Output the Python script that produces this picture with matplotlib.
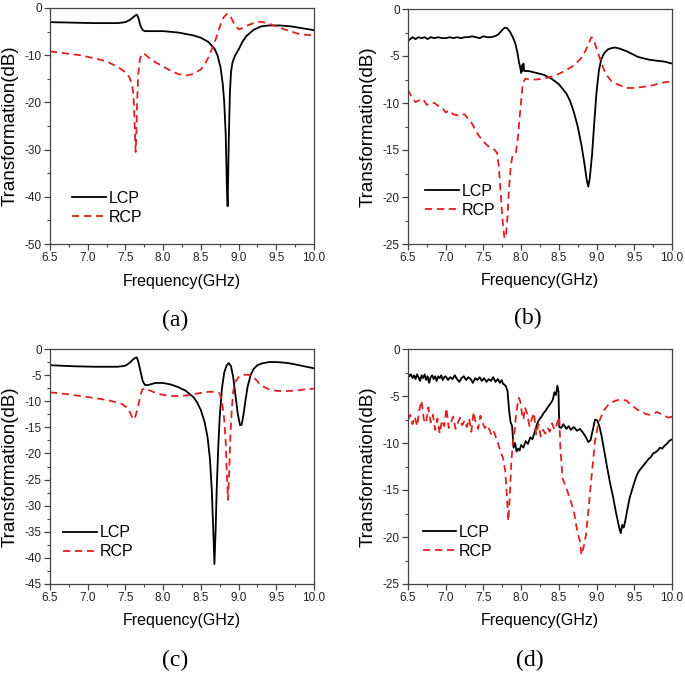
import matplotlib
matplotlib.use("Agg")
import matplotlib.pyplot as plt
from matplotlib.ticker import MultipleLocator

plt.rcParams['font.family'] = ['Liberation Sans', 'DejaVu Sans']
plt.rcParams['axes.unicode_minus'] = False

# ---------------- data ----------------
# (a)
a_lcp_x = [6.5, 6.8, 7.1, 7.4, 7.5, 7.56, 7.6, 7.63, 7.65, 7.67, 7.7, 7.73, 7.76, 7.8, 8.0, 8.2, 8.4, 8.5, 8.6,
           8.68, 8.72, 8.76, 8.79, 8.81, 8.83, 8.845, 8.855, 8.87, 8.885, 8.9, 8.92, 8.95, 9.0, 9.05, 9.1, 9.2,
           9.3, 9.4, 9.55, 9.7, 9.85, 10.0]
a_lcp_y = [-3.0, -3.1, -3.2, -3.2, -3.0, -2.5, -2.0, -1.6, -1.4, -2.0, -3.8, -4.7, -4.9, -4.9, -4.9, -5.2, -5.8,
           -6.3, -7.2, -8.6, -10.0, -12.5, -16.0, -20.0, -27.0, -38.0, -42.0, -28.0, -18.0, -13.5, -11.5, -10.2,
           -8.8, -7.2, -6.0, -4.6, -3.9, -3.7, -3.7, -3.9, -4.3, -4.7]
a_rcp_x = [6.5, 6.7, 6.9, 7.1, 7.25, 7.4, 7.5, 7.55, 7.58, 7.6, 7.615, 7.625, 7.635, 7.645, 7.655, 7.67, 7.69,
           7.71, 7.73, 7.76, 7.8, 7.9, 8.0, 8.1, 8.2, 8.3, 8.4, 8.5, 8.55, 8.6, 8.65, 8.7, 8.75, 8.8, 8.85, 8.9,
           8.95, 9.0, 9.05, 9.1, 9.2, 9.3, 9.4, 9.5, 9.6, 9.7, 9.8, 9.9, 10.0]
a_rcp_y = [-9.2, -9.6, -10.0, -10.7, -11.3, -12.5, -13.6, -14.6, -15.8, -17.5, -21.0, -26.0, -30.5, -27.0, -20.0,
           -14.0, -11.0, -10.0, -9.6, -9.8, -10.4, -11.5, -12.4, -13.3, -14.0, -14.3, -14.0, -13.0, -12.0, -10.5,
           -8.5, -6.5, -4.0, -2.0, -1.2, -2.0, -3.6, -4.5, -4.3, -3.8, -3.2, -2.9, -3.3, -3.9, -4.5, -5.0, -5.5,
           -5.7, -5.8]

# (b)
b_lcp_x = [6.5, 6.53, 6.56, 6.6, 6.64, 6.68, 6.72, 6.76, 6.8, 6.85, 6.9, 6.95, 7.0, 7.05, 7.1, 7.15, 7.2, 7.25,
           7.3, 7.35, 7.4, 7.45, 7.5, 7.55, 7.6, 7.65, 7.7, 7.74, 7.78, 7.81, 7.85, 7.89, 7.92, 7.95, 7.97, 7.99,
           8.0, 8.01, 8.02, 8.03, 8.04, 8.05, 8.1, 8.2, 8.3, 8.4, 8.5, 8.6, 8.65, 8.7, 8.75, 8.8, 8.84, 8.87,
           8.89, 8.91, 8.94, 8.97, 9.0, 9.03, 9.06, 9.1, 9.15, 9.2, 9.25, 9.3, 9.4, 9.5, 9.55, 9.6, 9.7, 9.8,
           9.9, 10.0]
b_lcp_y = [-3.4, -3.2, -3.0, -3.2, -3.0, -3.1, -3.0, -3.2, -3.0, -3.1, -3.0, -3.1, -3.1, -3.0, -3.1, -3.0,
           -3.1, -3.0, -3.0, -2.9, -3.0, -3.1, -2.9, -3.0, -3.0, -2.9, -2.7, -2.3, -2.0, -2.0, -2.4, -3.0, -3.6,
           -4.6, -5.6, -6.3, -6.8, -6.0, -6.6, -5.8, -6.5, -6.6, -6.6, -6.8, -7.0, -7.4, -8.0, -9.0, -9.8, -11.0,
           -12.5, -14.5, -16.5, -18.2, -18.9, -18.0, -15.5, -12.0, -8.8, -6.6, -5.4, -4.7, -4.3, -4.15, -4.1,
           -4.2, -4.5, -4.9, -5.1, -5.2, -5.4, -5.5, -5.6, -5.8]
b_rcp_x = [6.5, 6.55, 6.6, 6.65, 6.7, 6.75, 6.8, 6.85, 6.9, 6.95, 7.0, 7.05, 7.1, 7.15, 7.2, 7.25, 7.3, 7.35,
           7.4, 7.45, 7.5, 7.55, 7.6, 7.65, 7.68, 7.7, 7.72, 7.74, 7.76, 7.78, 7.8, 7.82, 7.84, 7.86, 7.88, 7.9,
           7.93, 7.96, 7.98, 8.0, 8.02, 8.04, 8.06, 8.1, 8.2, 8.3, 8.4, 8.5, 8.6, 8.7, 8.8, 8.85, 8.9, 8.93,
           8.96, 9.0, 9.05, 9.1, 9.15, 9.2, 9.3, 9.4, 9.5, 9.6, 9.7, 9.8, 9.9, 10.0]
b_rcp_y = [-8.6, -9.4, -9.9, -9.7, -9.6, -10.2, -10.0, -10.0, -10.3, -10.5, -11.0, -10.8, -11.2, -11.3, -11.2,
           -11.2, -11.7, -12.2, -13.0, -13.6, -14.1, -14.5, -14.8, -15.0, -15.3, -16.5, -18.5, -21.0, -23.0,
           -24.4, -24.0, -22.0, -19.0, -17.0, -15.8, -15.5, -15.3, -13.5, -11.5, -9.8, -8.0, -7.6, -7.4, -7.5,
           -7.5, -7.4, -7.2, -6.9, -6.5, -6.0, -5.2, -4.5, -3.6, -3.0, -3.2, -4.2, -5.4, -6.5, -7.2, -7.7, -8.1,
           -8.4, -8.4, -8.3, -8.2, -8.0, -7.8, -7.7]

# (c)
c_lcp_x = [6.5, 6.8, 7.1, 7.4, 7.5, 7.56, 7.6, 7.63, 7.65, 7.67, 7.7, 7.73, 7.76, 7.8, 7.9, 8.0, 8.1, 8.2, 8.3,
           8.4, 8.45, 8.5, 8.55, 8.59, 8.62, 8.645, 8.665, 8.68, 8.695, 8.71, 8.73, 8.75, 8.78, 8.81, 8.84, 8.87,
           8.9, 8.93, 8.96, 8.99, 9.02, 9.04, 9.06, 9.09, 9.12, 9.16, 9.2, 9.25, 9.3, 9.4, 9.5, 9.6, 9.7, 9.8,
           9.9, 10.0]
c_lcp_y = [-3.1, -3.3, -3.4, -3.4, -3.2, -2.6, -2.0, -1.7, -1.6, -2.4, -4.3, -6.2, -6.9, -6.9, -6.5, -6.5,
           -6.8, -7.3, -8.0, -9.2, -10.2, -11.7, -14.0, -17.0, -21.0, -27.0, -35.0, -41.2, -35.0, -27.0, -19.0,
           -13.0, -7.5, -4.5, -3.2, -2.7, -3.3, -5.5, -9.0, -12.5, -14.6, -14.5, -13.0, -10.0, -7.2, -5.0, -3.8,
           -3.1, -2.8, -2.5, -2.5, -2.6, -2.8, -3.1, -3.4, -3.7]
c_rcp_x = [6.5, 6.7, 6.9, 7.1, 7.3, 7.45, 7.52, 7.57, 7.6, 7.63, 7.66, 7.69, 7.72, 7.76, 7.8, 7.9, 8.0, 8.1,
           8.2, 8.3, 8.4, 8.5, 8.6, 8.7, 8.75, 8.78, 8.81, 8.83, 8.845, 8.86, 8.875, 8.89, 8.91, 8.93, 8.96, 9.0,
           9.05, 9.1, 9.15, 9.2, 9.25, 9.3, 9.4, 9.5, 9.6, 9.7, 9.8, 9.9, 10.0]
c_rcp_y = [-8.3, -8.6, -9.0, -9.4, -9.9, -10.5, -11.2, -12.4, -13.5, -13.0, -11.5, -9.5, -7.8, -7.5, -7.8, -8.4,
           -8.8, -9.0, -9.0, -8.9, -8.7, -8.4, -8.2, -8.2, -8.5, -10.0, -13.5, -18.0, -24.0, -28.9, -24.0, -17.0,
           -11.5, -8.0, -6.2, -5.4, -5.0, -4.9, -5.0, -5.4, -6.2, -7.0, -7.7, -8.0, -8.1, -8.0, -7.9, -7.7, -7.6]

# (d)
d_lcp_x = [6.5, 6.52, 6.54, 6.56, 6.58, 6.6, 6.62, 6.64, 6.66, 6.68, 6.7, 6.72, 6.74, 6.76, 6.78, 6.8, 6.82,
           6.84, 6.86, 6.88, 6.9, 6.92, 6.94, 6.96, 6.98, 7.0, 7.03, 7.06, 7.09, 7.12, 7.15, 7.18, 7.21, 7.24,
           7.27, 7.3, 7.33, 7.36, 7.39, 7.42, 7.45, 7.48, 7.51, 7.54, 7.57, 7.6, 7.63, 7.66, 7.69, 7.72, 7.74,
           7.76, 7.78, 7.8, 7.82, 7.84, 7.86, 7.88, 7.9, 7.92, 7.94, 7.96, 7.98, 8.0, 8.03, 8.06, 8.09, 8.12,
           8.15, 8.18, 8.21, 8.24, 8.27, 8.3, 8.33, 8.36, 8.39, 8.42, 8.44, 8.46, 8.48, 8.495, 8.505, 8.53, 8.56,
           8.6, 8.63, 8.66, 8.7, 8.74, 8.78, 8.82, 8.86, 8.89, 8.92, 8.95, 8.98, 9.01, 9.04, 9.07, 9.1, 9.14,
           9.18, 9.22, 9.26, 9.3, 9.32, 9.34, 9.36, 9.38, 9.41, 9.44, 9.47, 9.5, 9.53, 9.56, 9.6, 9.63, 9.66,
           9.69, 9.72, 9.75, 9.78, 9.81, 9.84, 9.87, 9.9, 9.93, 9.96, 10.0]
d_lcp_y = [-2.6, -2.9, -2.7, -3.1, -2.8, -3.2, -2.7, -3.0, -3.4, -2.8, -3.1, -2.7, -3.3, -2.9, -3.6, -3.0,
           -2.8, -3.2, -2.9, -3.4, -2.9, -3.1, -2.8, -3.3, -3.0, -2.9, -3.3, -3.0, -3.2, -2.8, -3.2, -3.5, -3.1,
           -2.9, -3.3, -3.0, -3.2, -3.6, -3.1, -3.3, -3.0, -3.4, -3.1, -3.5, -3.2, -3.4, -3.0, -3.5, -3.2, -3.6,
           -3.3, -3.7, -3.8, -4.0, -4.5, -6.5, -7.8, -8.2, -10.5, -10.0, -10.9, -10.6, -10.8, -10.2, -10.5,
           -9.8, -10.1, -9.4, -9.6, -8.8, -8.0, -7.5, -7.2, -6.8, -6.5, -6.1, -5.8, -5.4, -4.6, -4.9, -3.9,
           -4.5, -8.3, -8.4, -8.0, -8.5, -8.2, -8.6, -8.3, -8.7, -8.5, -8.9, -9.4, -9.9, -9.7, -8.6, -7.5, -7.6,
           -8.3, -9.4, -10.8, -12.6, -14.3, -15.8, -17.5, -19.0, -19.6, -18.7, -19.0, -18.3, -17.0, -15.8,
           -15.0, -14.2, -13.5, -13.0, -12.6, -12.3, -12.0, -11.7, -11.5, -11.1, -11.0, -10.8, -10.5,
           -10.6, -10.3, -10.1, -9.8, -9.6]
d_rcp_x = [6.5, 6.53, 6.56, 6.59, 6.62, 6.65, 6.68, 6.71, 6.74, 6.77, 6.8, 6.83, 6.86, 6.89, 6.92, 6.95, 6.98,
           7.01, 7.04, 7.07, 7.1, 7.13, 7.16, 7.19, 7.22, 7.25, 7.28, 7.31, 7.34, 7.37, 7.4, 7.43, 7.46, 7.49,
           7.52, 7.55, 7.58, 7.61, 7.64, 7.67, 7.7, 7.73, 7.76, 7.79, 7.81, 7.83, 7.85, 7.87, 7.89, 7.91, 7.93,
           7.95, 7.97, 7.99, 8.01, 8.03, 8.05, 8.08, 8.11, 8.14, 8.17, 8.2, 8.23, 8.26, 8.29, 8.32, 8.35, 8.38,
           8.41, 8.44, 8.47, 8.49, 8.505, 8.52, 8.55, 8.6, 8.65, 8.7, 8.74, 8.78, 8.8, 8.83, 8.86, 8.9, 8.94,
           8.98, 9.02, 9.06, 9.1, 9.15, 9.2, 9.25, 9.3, 9.35, 9.4, 9.45, 9.5, 9.55, 9.6, 9.65, 9.7, 9.75, 9.8,
           9.85, 9.9, 9.95, 10.0]
d_rcp_y = [-7.5, -7.0, -8.0, -7.2, -8.2, -6.5, -5.5, -7.5, -7.9, -6.2, -7.8, -7.0, -8.6, -7.4, -9.0, -7.6,
           -8.2, -6.3, -8.4, -7.8, -7.2, -8.5, -7.9, -7.3, -8.1, -7.6, -8.3, -7.4, -8.8, -6.7, -7.9, -8.5, -7.1,
           -7.9, -8.4, -8.1, -8.6, -9.2, -8.8, -9.5, -10.2, -11.0, -11.6, -13.0, -15.5, -18.3, -15.5, -12.0,
           -10.0, -9.0, -7.2, -6.0, -5.2, -5.6, -6.8, -7.5, -6.2, -6.9, -8.2, -7.5, -6.8, -9.1, -8.0, -9.3, -8.6,
           -9.0, -8.4, -8.8, -7.9, -8.6, -8.1, -7.5, -7.2, -10.5, -13.8, -14.8, -16.0, -17.3, -19.2, -20.5,
           -21.9, -21.0, -19.8, -16.5, -13.0, -9.8, -8.0, -7.2, -6.5, -6.0, -5.7, -5.5, -5.4, -5.4, -5.5, -5.9,
           -6.2, -6.5, -6.7, -6.9, -7.0, -6.9, -6.7, -6.9, -7.1, -7.3, -7.2]

panels = [
    dict(label='(a)', lx=a_lcp_x, ly=a_lcp_y, rx=a_rcp_x, ry=a_rcp_y, ylim=(-50, 0), major=10, minor=5),
    dict(label='(b)', lx=b_lcp_x, ly=b_lcp_y, rx=b_rcp_x, ry=b_rcp_y, ylim=(-25, 0), major=5, minor=2.5),
    dict(label='(c)', lx=c_lcp_x, ly=c_lcp_y, rx=c_rcp_x, ry=c_rcp_y, ylim=(-45, 0), major=5, minor=2.5),
    dict(label='(d)', lx=d_lcp_x, ly=d_lcp_y, rx=d_rcp_x, ry=d_rcp_y, ylim=(-25, 0), major=5, minor=2.5),
]
x_ticks = [6.5, 7.0, 7.5, 8.0, 8.5, 9.0, 9.5, 10.0]

# ---------------- layout ----------------
W, H = 685, 674
fig = plt.figure(figsize=(W / 100, H / 100), dpi=100)
fig.patch.set_facecolor('white')

boxes = [(50, 8, 314, 244), (408, 9, 672, 244), (50, 349, 314, 584), (408, 349, 672, 584)]
legend_pos = [(0.085, 0.153), (0.066, 0.185), (0.051, 0.177), (0.055, 0.179)]
captions = [(175, 320), (528, 318), (175, 660), (530, 660)]

red = '#e02020'
spine_col = '#444444'

for p, (x0, y0, x1, y1), lp, cp in zip(panels, boxes, legend_pos, captions):
    ax = fig.add_axes([x0 / W, 1 - y1 / H, (x1 - x0) / W, (y1 - y0) / H])
    ax.plot(p['lx'], p['ly'], color='black', lw=1.3, label='LCP')
    ax.plot(p['rx'], p['ry'], color=red, lw=1.3, linestyle=(0, (4.0, 2.6)), label='RCP')
    ax.set_xlim(6.5, 10.0)
    ax.set_ylim(*p['ylim'])
    ax.set_xticks(x_ticks)
    ax.set_xticklabels([f'{v:.1f}' for v in x_ticks])
    ax.xaxis.set_minor_locator(MultipleLocator(0.25))
    ax.yaxis.set_major_locator(MultipleLocator(p['major']))
    ax.yaxis.set_minor_locator(MultipleLocator(p['minor']))
    ax.tick_params(which='major', direction='out', length=4, width=0.9, color=spine_col,
                   labelsize=8.5, pad=2, labelcolor='#222222')
    ax.tick_params(which='minor', direction='out', length=2, width=0.8, color=spine_col)
    ax.tick_params(top=False, right=False, which='both')
    for s in ax.spines.values():
        s.set_color(spine_col)
        s.set_linewidth(0.9)
    ax.set_xlabel('Frequency(GHz)', fontsize=11.5)
    ax.set_ylabel('Transformation(dB)', fontsize=13.5)
    ax.xaxis.set_label_coords(0.5, -0.125)
    ax.yaxis.set_label_coords(-0.15, 0.5)
    ax.xaxis.label.set_va('top')
    ax.yaxis.label.set_va('center')
    leg = ax.legend(loc='center left', bbox_to_anchor=lp, frameon=False, fontsize=11.5,
                    handlelength=2.1, handletextpad=0.15, labelspacing=0.25, borderpad=0,
                    borderaxespad=0)
    fig.text(cp[0] / W, 1 - cp[1] / H, p['label'], family=['Liberation Serif', 'DejaVu Serif'],
             fontsize=17, ha='center', va='center')

fig.savefig('out.png', dpi=100, facecolor='white')
